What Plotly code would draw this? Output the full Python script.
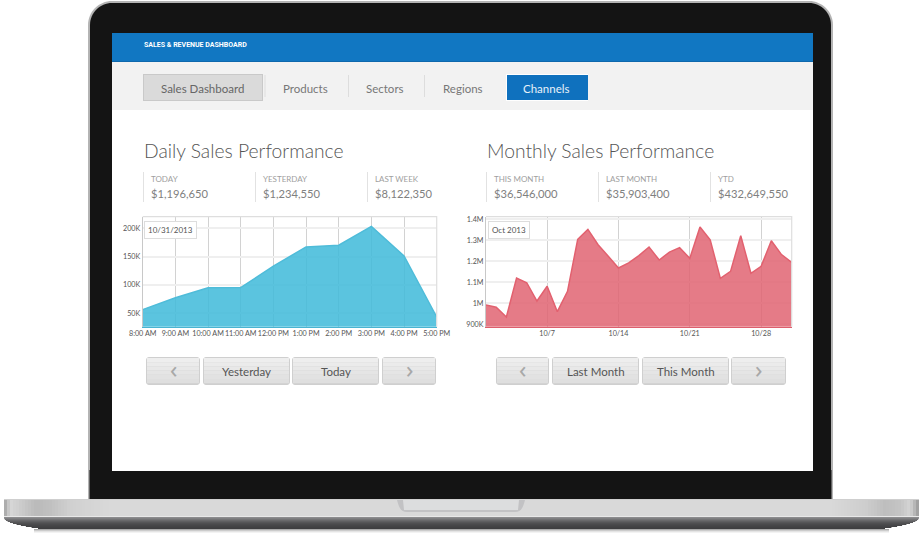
import datetime
import plotly.graph_objects as go

W, H = 922, 537

# daily chart
daily_hours = [8, 9, 10, 11, 12, 13, 14, 15, 16, 17]
daily_sales = [56000, 77000, 94500, 95000, 133000, 167000, 170000, 203500, 151000, 43000]
daily_ytick_vals = [50000, 100000, 150000, 200000]
daily_ytick_text = ["50K", "100K", "150K", "200K"]

# monthly chart
month_days = list(range(1, 32))
month_sales = [992000, 981000, 935000, 1120000, 1098000, 1011000, 1081000, 960000, 1057000, 1305000,
               1352000, 1279000, 1224000, 1168000, 1192000, 1227000, 1268000, 1206000, 1244000, 1265000,
               1214000, 1363000, 1302000, 1119000, 1152000, 1322000, 1143000, 1176000, 1298000, 1232000,
               1195000]
month_ytick_vals = [900000, 1000000, 1100000, 1200000, 1300000, 1400000]
month_ytick_text = ["900K", "1M", "1.1M", "1.2M", "1.3M", "1.4M"]
month_xtick_days = [7, 14, 21, 28]

# text
nav_labels = ["Sales Dashboard", "Products", "Sectors", "Regions", "Channels"]
daily_stats = [("TODAY", "$1,196,650"), ("YESTERDAY", "$1,234,550"), ("LAST WEEK", "$8,122,350")]
month_stats = [("THIS MONTH", "$36,546,000"), ("LAST MONTH", "$35,903,400"), ("YTD", "$432,649,550")]

FONT = "Lato"


def fx(x):
    return x / W


def fy(y):
    return 1 - y / H


shapes = []
notes = []


def rect(x0, y0, x1, y1, color):
    shapes.append(dict(type="rect", xref="paper", yref="paper", layer="below",
                       x0=fx(x0), x1=fx(x1), y0=fy(y0), y1=fy(y1),
                       fillcolor=color, line=dict(width=0)))


def path(points, color, line_color=None):
    # points are pixel tuples or raw svg commands with pixel tuples
    d = ""
    for p in points:
        if isinstance(p, str):
            d += p + " "
        else:
            d += f"{fx(p[0]):.5f},{fy(p[1]):.5f} "
    shapes.append(dict(type="path", xref="paper", yref="paper", layer="below", path=d,
                       fillcolor=color,
                       line=dict(width=1 if line_color else 0, color=line_color or color)))


def round_rect(x0, y0, x1, y1, r, color, line_color=None):
    k = r * 0.45
    path(["M", (x0 + r, y0), "L", (x1 - r, y0),
          "C", (x1 - k, y0), (x1, y0 + k), (x1, y0 + r),
          "L", (x1, y1 - r),
          "C", (x1, y1 - k), (x1 - k, y1), (x1 - r, y1),
          "L", (x0 + r, y1),
          "C", (x0 + k, y1), (x0, y1 - k), (x0, y1 - r),
          "L", (x0, y0 + r),
          "C", (x0, y0 + k), (x0 + k, y0), (x0 + r, y0), "Z"], color, line_color)


def label(x, y, text, size, color, anchor="left", family=FONT, weight=None):
    font = dict(family=family, size=size, color=color)
    if weight:
        font["weight"] = weight
    notes.append(dict(xref="paper", yref="paper", x=fx(x), y=fy(y), text=text, showarrow=False,
                      xanchor=anchor, yanchor="middle", font=font, borderpad=0))


def button(x0, x1, text, size=11.5, color="#555555", family=FONT, text_y=371):
    y0, y1 = 357, 385
    round_rect(x0, y0, x1, y1, 3, "#cfcfcf")
    steps = ["#eeeeee", "#ebebeb", "#e8e8e8", "#e5e5e5", "#e2e2e2", "#dfdfdf"]
    for i, c in enumerate(steps):
        rect(x0 + 1, y0 + 1 + i * 4.2, x1 - 1, y0 + 1 + (i + 1) * 4.2, c)
    label((x0 + x1) / 2, text_y, text, size, color, "center", family=family)


def arrow(x0, x1, text):
    button(x0, x1, text, 24, "#a8a8a8", "Noto Sans", 368)


def mix(stops, x):
    for (x0, c0), (x1, c1) in zip(stops, stops[1:]):
        if x0 <= x <= x1:
            t = (x - x0) / (x1 - x0)
            v = round(c0 + (c1 - c0) * t)
            return f"rgb({v},{v},{v})"
    return f"rgb({stops[-1][1]},{stops[-1][1]},{stops[-1][1]})"


# laptop lid
round_rect(88, 1, 833, 505, 24, "#b4b4b4")
rect(88, 470, 833, 500, "#b4b4b4")
round_rect(90, 3, 831, 505, 22, "#141414")
rect(89.5, 470, 831.5, 500, "#141414")
path(["M", (455.5, 20), "A 0.0054 0.0093 0 1 1", (466.5, 20), "A 0.0054 0.0093 0 1 1", (455.5, 20), "Z"], "#262626")
path(["M", (458, 20), "A 0.0033 0.0056 0 1 1", (464, 20), "A 0.0033 0.0056 0 1 1", (458, 20), "Z"], "#1f4f96")

# screen
rect(112, 34, 813, 471, "#ffffff")
rect(112, 33, 813, 61, "#1177c2")
rect(112, 61, 813, 62, "#0e68ad")
rect(112, 62, 813, 110, "#f2f2f2")
label(143, 45.5, "SALES &amp; REVENUE DASHBOARD", 7, "#ffffff", family="Roboto", weight=700)

# nav bar
rect(143, 74, 263, 101, "#c9c9c9")
rect(144, 75, 262, 100, "#dadada")
rect(506, 74, 588, 101, "#ffffff")
rect(507, 75, 588, 100, "#0f71be")
for x in [264.5, 348, 424]:
    rect(x, 75, x + 1, 97, "#dddddd")
for x, name, col in zip([202, 305, 385, 463, 546], nav_labels,
                        ["#666666", "#777777", "#777777", "#777777", "#e8f2fa"]):
    label(x, 88.5, name, 11.5, col, "center")

# titles and stats
label(142.5, 150.5, "Daily Sales Performance", 19.3, "#555555", weight=300)
label(485.5, 150.5, "Monthly Sales Performance", 19.3, "#555555", weight=300)
for left, stats in [(143, daily_stats), (486, month_stats)]:
    for i, (name, value) in enumerate(stats):
        x = left + i * 112
        rect(x, 172, x + 1, 202, "#e2e2e2")
        label(x + 7, 179, name, 8, "#a0a0a0")
        label(x + 7, 194, value, 11.2, "#808080")

# buttons
arrow(146, 200, "‹")
button(203, 290, "Yesterday")
button(292, 379, "Today")
arrow(382, 436, "›")
arrow(496, 549, "‹")
button(552, 639, "Last Month")
button(642, 729, "This Month")
arrow(731, 786, "›")

# laptop base
silver = [(4, 156), (7, 190), (11, 214), (20, 205), (36, 186), (50, 192), (70, 208), (110, 217), (830, 217),
          (865, 206), (885, 190), (900, 196), (910, 212), (915, 180), (919, 152)]
for x in range(4, 919, 3):
    rect(x, 500, x + 3, 517, mix(silver, x + 1.5))
rect(4, 499, 919, 500, "#cfcfcf")
rect(4, 516, 919, 517, "#e8e8e8")
band = ["#8c8c8e", "#808082", "#747476", "#69696b", "#5f5f61", "#565658", "#4f4f51", "#4a4a4c",
        "#464648", "#434345", "#404042", "#3e3e40"]
for i, c in enumerate(band):
    inset = 4 + 34 * (i / 11) ** 2.2
    rect(inset, 517 + i, 923 - inset, 518 + i, c)
for i, c in enumerate(["#aaaaaa", "#cccccc", "#e4e4e4", "#f3f3f3"]):
    rect(34, 529 + i, 889, 530 + i, c)
# lid hinge notch
path(["M", (397, 500), "C", (399, 508), (401, 512), (407, 512), "L", (515, 512),
      "C", (521, 512), (523, 508), (525, 500), "Z"], "#c2c2c4")
path(["M", (403, 500), "L", (404, 510), "L", (518, 510), "L", (519, 500), "Z"], "#dcddde")

# charts
daily_x = [datetime.datetime(2013, 10, 31, h) for h in daily_hours]
month_x = [datetime.datetime(2013, 10, d) for d in month_days]
month_ticks = [datetime.datetime(2013, 10, d) for d in month_xtick_days]

fig = go.Figure()
fig.add_trace(go.Scatter(x=daily_x, y=daily_sales, mode="lines", fill="tozeroy",
                         line=dict(color="#4fbcd9", width=1.5), fillcolor="rgba(64,186,218,0.86)",
                         xaxis="x", yaxis="y", hoverinfo="skip"))
fig.add_trace(go.Scatter(x=month_x, y=month_sales, mode="lines", fill="tozeroy",
                         line=dict(color="#e2616f", width=1.5), fillcolor="rgba(224,98,112,0.84)",
                         xaxis="x2", yaxis="y2", hoverinfo="skip"))

tick_font = dict(family=FONT, size=7.2, color="#555555")
x_common = dict(showgrid=True, gridcolor="#d2d2d2", gridwidth=1.2, showline=True, ticks="", automargin=False,
                tickfont=tick_font, zeroline=False, ticklen=0, tickangle=0)
y_common = dict(showgrid=True, gridcolor="#efefef", gridwidth=1.5, showline=True, linecolor="#c8c8c8",
                linewidth=1, ticks="", tickfont=tick_font, zeroline=False, automargin=False)

# top and right edges of the two plots
for x0, x1 in [(142.7, 436.7), (486, 791.7)]:
    d = f"M {fx(x0):.5f},{fy(216.7):.5f} L {fx(x1):.5f},{fy(216.7):.5f} L {fx(x1):.5f},{fy(326.7):.5f}"
    shapes.append(dict(type="path", xref="paper", yref="paper", layer="above", path=d,
                       line=dict(color="#dedede", width=1.2)))

fig.update_layout(
    width=W, height=H, autosize=False, showlegend=False,
    margin=dict(l=0, r=0, t=0, b=0),
    paper_bgcolor="#ffffff", plot_bgcolor="#ffffff",
    xaxis=dict(domain=[fx(142.7), fx(436.7)], anchor="y", type="date", dtick=3600000,
               tickformat="%-I:%M %p", range=[daily_x[0], daily_x[-1]], linecolor="#49b4d2", linewidth=1,
               **x_common),
    yaxis=dict(domain=[fy(326.7), fy(216.7)], anchor="x", range=[25700, 220600],
               tickvals=daily_ytick_vals, ticktext=daily_ytick_text, **y_common),
    xaxis2=dict(domain=[fx(486), fx(791.7)], anchor="y2", type="date", tickvals=month_ticks,
                tickformat="%-m/%-d", range=[month_x[0], month_x[-1]], linecolor="#dd5f6d", linewidth=1,
                **x_common),
    yaxis2=dict(domain=[fy(326.7), fy(216.7)], anchor="x2", range=[888600, 1412400],
                tickvals=month_ytick_vals, ticktext=month_ytick_text, **y_common),
    shapes=shapes,
    annotations=notes + [
        dict(xref="paper", yref="paper", x=fx(170.5), y=fy(230), text="10/31/2013", showarrow=False,
             xanchor="center", yanchor="middle", font=dict(family=FONT, size=8, color="#555555"),
             bgcolor="#ffffff", bordercolor="#dddddd", borderwidth=1, borderpad=3),
        dict(xref="paper", yref="paper", x=fx(509), y=fy(230), text="Oct 2013", showarrow=False,
             xanchor="center", yanchor="middle", font=dict(family=FONT, size=8, color="#555555"),
             bgcolor="#ffffff", bordercolor="#dddddd", borderwidth=1, borderpad=3),
    ],
)

fig.write_html("out.html", config=dict(displayModeBar=False), post_script="document.body.style.margin='0';")
